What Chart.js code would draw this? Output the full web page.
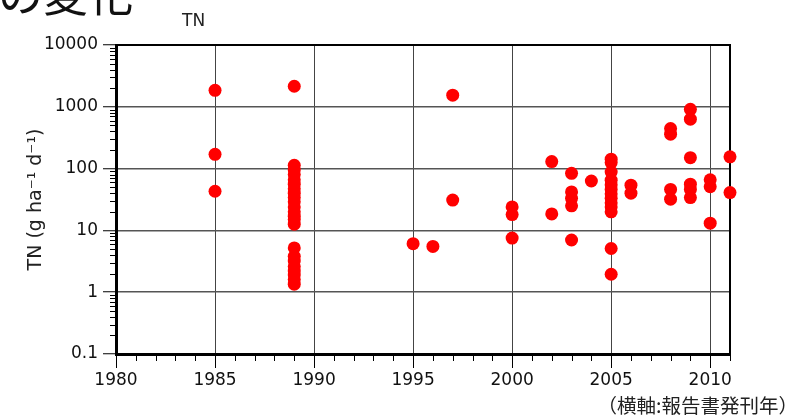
<!DOCTYPE html>
<html>
<head>
<meta charset="utf-8">
<script src="https://cdn.jsdelivr.net/npm/chart.js@4.4.0/dist/chart.umd.min.js"></script>
<style>
html, body { margin: 0; padding: 0; background: #fff; }
#wrap { position: relative; width: 805px; height: 416px; overflow: hidden; }
#c { position: absolute; left: 0; top: 0; }
.txt { position: absolute; white-space: nowrap; line-height: 1; color: #111; }
#head { left: -2px; top: -40px; font: 45px "Noto Sans CJK JP"; }
#sub { left: 182px; top: 10px; font: 17px "DejaVu Sans"; color: #222; }
#note { right: 7px; top: 390px; font: 19.5px "Noto Sans CJK JP"; color: #222; }
</style>
</head>
<body>
<div id="wrap">
  <canvas id="c" width="805" height="416"></canvas>
  <div class="txt" id="head">の変化</div>
  <div class="txt" id="sub">TN</div>
  <div class="txt" id="note">（横軸:報告書発刊年）</div>
</div>
<script>
// report year -> TN values (g ha-1 d-1)
const years = [1985, 1989, 1995, 1996, 1997, 2000, 2002, 2003, 2004, 2005, 2006, 2008, 2009, 2010, 2011];
const tn1985 = [1850, 170, 43];
const tn1989 = [2150, 113, 95, 80, 66, 56, 47, 40, 34, 29, 24, 20, 17, 15, 12.6, 5.2, 3.8, 3.2, 2.6, 2.2, 1.9, 1.6, 1.35];
const tn1995 = [6.1];
const tn1996 = [5.5];
const tn1997 = [1540, 31];
const tn2000 = [24, 18, 7.5];
const tn2002 = [130, 18.5];
const tn2003 = [84, 42, 33, 25, 7.0];
const tn2004 = [63];
const tn2005 = [142, 125, 88, 65, 55, 46, 39, 33, 28, 24, 20, 5.1, 1.95];
const tn2006 = [54, 40];
const tn2008 = [445, 360, 46, 32];
const tn2009 = [910, 630, 150, 56, 46, 34];
const tn2010 = [66, 51, 13.1];
const tn2011 = [155, 41];
const tnByYear = [tn1985, tn1989, tn1995, tn1996, tn1997, tn2000, tn2002, tn2003, tn2004, tn2005, tn2006, tn2008, tn2009, tn2010, tn2011];

const xTicks = [1980, 1985, 1990, 1995, 2000, 2005, 2010];
const yTicks = [0.1, 1, 10, 100, 1000, 10000];

const points = [];
years.forEach((yr, i) => {
    tnByYear[i].forEach(v => points.push({ x: yr, y: v }));
});

// minor ticks + top/right frame
const frameAndMinor = {
    id: 'frameAndMinor',
    beforeDatasetsDraw(chart) {
        const { ctx, chartArea: a, scales: { x, y } } = chart;
        ctx.save();
        ctx.strokeStyle = '#000';
        ctx.lineWidth = 1;
        ctx.beginPath();
        for (let d = 0; d < yTicks.length - 1; d++) {
            for (let k = 2; k <= 9; k++) {
                const py = Math.round(y.getPixelForValue(yTicks[d] * k)) + 0.5;
                ctx.moveTo(a.left - 6, py);
                ctx.lineTo(a.left, py);
            }
        }
        for (let yr = 1981; yr <= 2011; yr++) {
            if (yr % 5 === 0) continue;
            const px = Math.round(x.getPixelForValue(yr)) + 0.5;
            ctx.moveTo(px, a.bottom);
            ctx.lineTo(px, a.bottom + 7);
        }
        ctx.stroke();
        ctx.lineWidth = 2;
        ctx.beginPath();
        ctx.moveTo(a.left, a.top);
        ctx.lineTo(a.right, a.top);
        ctx.lineTo(a.right, a.bottom);
        ctx.stroke();
        ctx.restore();
    }
};

const tickFont = { family: 'DejaVu Sans', size: 17 };

new Chart(document.getElementById('c'), {
    type: 'scatter',
    data: {
        datasets: [{
            data: points,
            backgroundColor: '#ff0000',
            borderColor: '#ff0000',
            borderWidth: 0,
            pointRadius: 6.5,
            clip: false
        }]
    },
    options: {
        responsive: false,
        animation: false,
        layout: { padding: { top: 45, right: 75, left: 0, bottom: 0 } },
        plugins: { legend: { display: false }, tooltip: { enabled: false } },
        scales: {
            x: {
                type: 'linear',
                min: 1980,
                max: 2011,
                afterBuildTicks: s => { s.ticks = xTicks.map(v => ({ value: v })); },
                afterFit: s => { s.height = 62; },
                grid: { color: '#444', lineWidth: 1, tickLength: 14, tickColor: '#000', tickWidth: 1 },
                border: { color: '#000', width: 3 },
                ticks: { font: tickFont, color: '#111', padding: 2, maxRotation: 0, callback: v => String(v) }
            },
            y: {
                type: 'logarithmic',
                min: 0.1,
                max: 10000,
                afterBuildTicks: s => { s.ticks = yTicks.map(v => ({ value: v })); },
                afterFit: s => { s.width = 116; },
                grid: { color: '#555', lineWidth: 1.5, tickLength: 13, tickColor: '#000', tickWidth: 1 },
                border: { color: '#000', width: 3 },
                ticks: { font: tickFont, color: '#111', padding: 5, callback: v => String(v) },
                title: {
                    display: true,
                    text: 'TN (g ha⁻¹ d⁻¹)',
                    font: { family: 'DejaVu Sans', size: 19 },
                    color: '#222',
                    padding: { top: 25, bottom: 0 }
                }
            }
        }
    },
    plugins: [frameAndMinor]
});
</script>
</body>
</html>
